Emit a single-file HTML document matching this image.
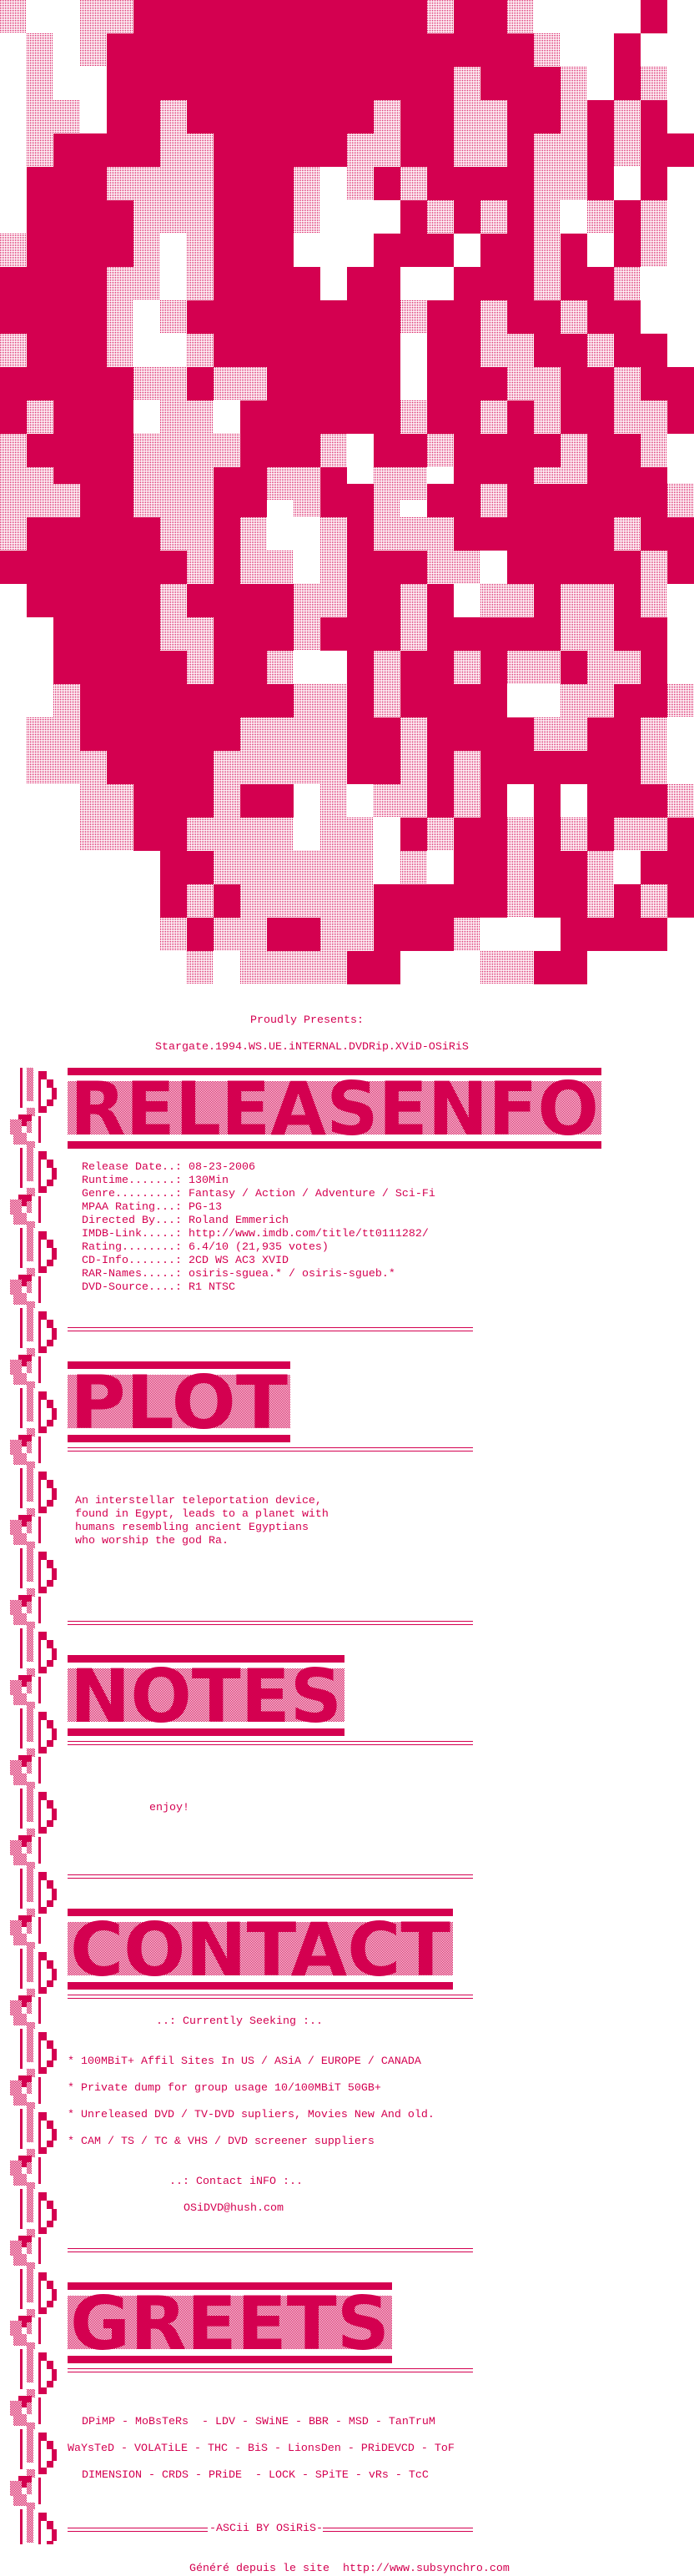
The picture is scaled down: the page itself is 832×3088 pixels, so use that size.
<!DOCTYPE html>
<html><head><meta charset="utf-8">
<style>
html,body{margin:0;padding:0;background:#fff;}
body{width:832px;height:3088px;position:relative;overflow:hidden;font-family:"Liberation Mono",monospace;font-size:13.33px;color:#d40050;}
.t{position:absolute;white-space:pre;line-height:16px;height:16px;}
.dl{position:absolute;left:81px;width:486px;height:5px;border-top:1px solid #d40050;border-bottom:1px solid #d40050;box-sizing:border-box;}
svg{position:absolute;left:0;top:0;}
</style></head><body>
<svg id="art" width="832" height="1180" viewBox="0 0 832 1180">
<defs>
<pattern id="dith" width="2" height="2" patternUnits="userSpaceOnUse"><rect width="2" height="2" fill="#fff"/><rect width="1" height="1" fill="#d40050"/></pattern>
</defs>
<g id="cells"></g>
</svg>

<svg width="832" height="3088" style="pointer-events:none">
<defs>
<pattern id="dith2" width="2" height="2" patternUnits="userSpaceOnUse"><rect width="2" height="2" fill="#fff"/><rect width="1" height="1" fill="#d40050"/><rect x="1" y="1" width="1" height="1" fill="#d40050"/></pattern>
<pattern id="border" x="0" y="1280" width="80" height="96" patternUnits="userSpaceOnUse">
<rect x="24" y="0" width="3" height="48" fill="#d40050"/>
<rect x="32" y="0" width="8" height="40" fill="url(#dith2)"/>
<rect x="46" y="4" width="10" height="10" fill="#d40050"/>
<rect x="56" y="14" width="8" height="10" fill="#d40050"/>
<rect x="62" y="24" width="6" height="14" fill="#d40050"/>
<rect x="56" y="38" width="8" height="8" fill="#d40050"/>
<rect x="46" y="46" width="10" height="8" fill="#d40050"/>
<rect x="46" y="14" width="3" height="32" fill="#d40050"/>
<rect x="32" y="48" width="10" height="10" fill="url(#dith2)"/>
<rect x="22" y="56" width="16" height="14" fill="#d40050"/>
<rect x="12" y="62" width="14" height="18" fill="url(#dith2)"/>
<rect x="16" y="78" width="16" height="14" fill="url(#dith2)"/>
<rect x="32" y="88" width="10" height="8" fill="url(#dith2)"/>
<rect x="46" y="58" width="3" height="32" fill="#d40050"/>
<rect x="32" y="64" width="6" height="14" fill="url(#dith2)"/>
</pattern>
</defs>
<rect x="10" y="1280" width="62" height="1770" fill="url(#border)"/>
<g id="hdrs" font-family="DejaVu Sans, sans-serif" font-weight="bold" fill="#d40050"></g>
</svg>

<div class="t" style="left:300px;top:1216px">Proudly Presents:</div>
<div class="t" style="left:186px;top:1248px">Stargate.1994.WS.UE.iNTERNAL.DVDRip.XViD-OSiRiS</div>

<div class="t" style="left:98px;top:1392px">Release Date..: 08-23-2006</div>
<div class="t" style="left:98px;top:1408px">Runtime.......: 130Min</div>
<div class="t" style="left:98px;top:1424px">Genre.........: Fantasy / Action / Adventure / Sci-Fi</div>
<div class="t" style="left:98px;top:1440px">MPAA Rating...: PG-13</div>
<div class="t" style="left:98px;top:1456px">Directed By...: Roland Emmerich</div>
<div class="t" style="left:98px;top:1472px">IMDB-Link.....: http://www.imdb.com/title/tt0111282/</div>
<div class="t" style="left:98px;top:1488px">Rating........: 6.4/10 (21,935 votes)</div>
<div class="t" style="left:98px;top:1504px">CD-Info.......: 2CD WS AC3 XVID</div>
<div class="t" style="left:98px;top:1520px">RAR-Names.....: osiris-sguea.* / osiris-sgueb.*</div>
<div class="t" style="left:98px;top:1536px">DVD-Source....: R1 NTSC</div>

<div class="dl" style="top:1591px"></div>
<div class="dl" style="top:1735px"></div>

<div class="t" style="left:90px;top:1792px">An interstellar teleportation device,</div>
<div class="t" style="left:90px;top:1808px">found in Egypt, leads to a planet with</div>
<div class="t" style="left:90px;top:1824px">humans resembling ancient Egyptians</div>
<div class="t" style="left:90px;top:1840px">who worship the god Ra.</div>

<div class="dl" style="top:1943px"></div>
<div class="dl" style="top:2087px"></div>

<div class="t" style="left:179px;top:2160px">enjoy!</div>

<div class="dl" style="top:2247px"></div>
<div class="dl" style="top:2391px"></div>

<div class="t" style="left:187px;top:2416px">..: Currently Seeking :..</div>
<div class="t" style="left:81px;top:2464px">* 100MBiT+ Affil Sites In US / ASiA / EUROPE / CANADA</div>
<div class="t" style="left:81px;top:2496px">* Private dump for group usage 10/100MBiT 50GB+</div>
<div class="t" style="left:81px;top:2528px">* Unreleased DVD / TV-DVD supliers, Movies New And old.</div>
<div class="t" style="left:81px;top:2560px">* CAM / TS / TC &amp; VHS / DVD screener suppliers</div>
<div class="t" style="left:203px;top:2608px">..: Contact iNFO :..</div>
<div class="t" style="left:220px;top:2640px">OSiDVD@hush.com</div>

<div class="dl" style="top:2695px"></div>
<div class="dl" style="top:2839px"></div>

<div class="t" style="left:98px;top:2896px">DPiMP - MoBsTeRs  - LDV - SWiNE - BBR - MSD - TanTruM</div>
<div class="t" style="left:81px;top:2928px">WaYsTeD - VOLATiLE - THC - BiS - LionsDen - PRiDEVCD - ToF</div>
<div class="t" style="left:98px;top:2960px">DIMENSION - CRDS - PRiDE  - LOCK - SPiTE - vRs - TcC</div>

<div class="dl" style="top:3030px;width:168px"></div>
<div class="t" style="left:251px;top:3024px">-ASCii BY OSiRiS-</div>
<div class="dl" style="top:3030px;left:387px;width:180px"></div>

<div class="t" style="left:227px;top:3072px">Généré depuis le site  http://www.subsynchro.com</div>

<script>
var rows=[
"+..++###########+##+....#.",
".+.+################+..#..",
".+..#############+###+.#+.",
".++.##+#######+##++##+#+#.",
".+####++#####++##++#++#+##",
".###++++###+.+#+####++#.#.",
".####+++###+...#+#+#+.+#+.",
"+####+.+###...###.##+#.#+.",
"####++.+####.##..###+##+..",
"####+.+########+##+##+##..",
"+###+..+#######.##++##+##.",
"#####++#++#####.###++##+##",
"#+###.++.######+##+#+##++#",
"+####++++###+.##+####+##+.",
"++###+++##++#.++.###++###.",
"+++##+++##.+##+.##+######+",
"+#####++#+..+#+++######+##",
"#######+#++.+###++.#####+#",
".#####+####++##+#.++#++#+.",
"..####++###+###+#####++##.",
"..#####+##+..#+##+#++#++#.",
"..+########++#+####..++##+",
".++######++++##+####++##+.",
".+++####+++++##+#+######+.",
"...++###+##.+.++#+#.#.###+",
"...++##++++.++.#+##+#+#++#",
"......##++++++.+.##+##+.##",
"......#+#+++++#####+##+#+#",
"......+#++##++###+...####.",
".......+.++++##...++##...."];
var g=document.getElementById('cells'),s='';
for(var r=0;r<rows.length;r++){
  var y=r<15?r*40:580+(r-15)*40;
  for(var c=0;c<26;c++){
    var ch=rows[r][c];
    if(ch=='#')s+='<rect x="'+(c*32)+'" y="'+y+'" width="32" height="40" fill="#d40050"/>';
    else if(ch=='+')s+='<rect x="'+(c*32)+'" y="'+y+'" width="32" height="40" fill="url(#dith)"/>';
  }
}
g.innerHTML=s;
var H=[["releasenfo",1280,721],["PLOT",1632,348],["NOTES",1984,413],["CONTACT",2288,543],["GREETS",2736,470]];
var h='';
H.forEach(function(a){
  var t=a[1],r=a[2],w=r-81;
  h+='<rect x="81" y="'+t+'" width="'+w+'" height="9"/>';
  h+='<rect x="81" y="'+(t+16)+'" width="'+w+'" height="64" fill="url(#dith2)"/>';
  h+='<text x="84" y="'+(t+80)+'" font-size="88" textLength="'+(w-6)+'" lengthAdjust="spacingAndGlyphs">'+a[0].toUpperCase()+'</text>';
  h+='<rect x="81" y="'+(t+88)+'" width="'+w+'" height="9"/>';
});
document.getElementById('hdrs').innerHTML=h;
</script>
</body></html>
